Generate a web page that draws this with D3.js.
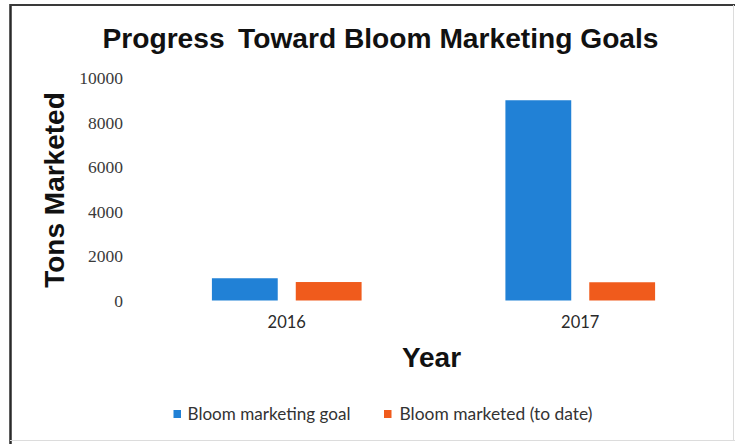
<!DOCTYPE html>
<html>
<head>
<meta charset="utf-8">
<script src="https://cdn.jsdelivr.net/npm/d3@7"></script>
<style>
  html, body { margin: 0; padding: 0; background: #fff; }
  svg { display: block; }
</style>
</head>
<body>
<svg id="chart" width="735" height="444"></svg>
<script>
// Chart data
const years = ["2016", "2017"];
const seriesNames = ["Bloom marketing goal", "Bloom marketed (to date)"];
const goalTons = [1000, 9000];
const marketedTons = [830, 820];
const yTicks = [0, 2000, 4000, 6000, 8000, 10000];

const colors = ["#2181d6", "#f05b1c"];
const W = 735, H = 444;
const plot = { left: 140, right: 727, top: 78, bottom: 300.5 };

const svg = d3.select("#chart");

// Frame
svg.append("rect").attr("x", 0).attr("y", 0).attr("width", W).attr("height", H).attr("fill", "#fff");
svg.append("line").attr("x1", 10.5).attr("x2", 10.5).attr("y1", 4).attr("y2", H).attr("stroke", "#2a2a2a").attr("stroke-width", 2.5);
svg.append("line").attr("x1", 10).attr("x2", W).attr("y1", 5).attr("y2", 5).attr("stroke", "#3a3a3a").attr("stroke-width", 2);
svg.append("line").attr("x1", 10).attr("x2", W).attr("y1", 440.5).attr("y2", 440.5).attr("stroke", "#dcdcdc").attr("stroke-width", 1);
svg.append("line").attr("x1", 733.5).attr("x2", 733.5).attr("y1", 5).attr("y2", 441).attr("stroke", "#dcdcdc").attr("stroke-width", 1);

// Scales
const x0 = d3.scaleBand().domain(years).range([plot.left, plot.right]).paddingInner(0.49).paddingOuter(0.245);
const x1 = d3.scaleBand().domain(seriesNames).range([0, x0.bandwidth()]).paddingInner(0.215).paddingOuter(0);
const y = d3.scaleLinear().domain([0, 10000]).range([plot.bottom, plot.top]);

const rows = years.map((yr, i) => ({ year: yr, values: [goalTons[i], marketedTons[i]] }));

// Bars
const groups = svg.append("g").selectAll("g").data(rows).join("g")
  .attr("transform", d => `translate(${x0(d.year)},0)`);
groups.selectAll("rect")
  .data(d => d.values.map((v, k) => ({ key: seriesNames[k], value: v, k })))
  .join("rect")
  .attr("x", d => x1(d.key))
  .attr("width", x1.bandwidth())
  .attr("y", d => y(d.value))
  .attr("height", d => y(0) - y(d.value))
  .attr("fill", d => colors[d.k]);

// Y axis (labels only)
const yAxis = d3.axisLeft(y).tickValues(yTicks).tickSize(0).tickPadding(0).tickFormat(d3.format("d"));
const yg = svg.append("g").attr("transform", "translate(123,0)").call(yAxis);
yg.select(".domain").remove();
yg.selectAll("text")
  .attr("font-family", "'Liberation Serif', serif")
  .attr("font-size", 17.5)
  .attr("fill", "#3a3a3a");

// X axis (labels only)
const xAxis = d3.axisBottom(x0).tickSize(0).tickPadding(0);
const xg = svg.append("g").attr("transform", "translate(0,316)").call(xAxis);
xg.select(".domain").remove();
xg.selectAll("text")
  .attr("font-family", "Lato, sans-serif")
  .attr("font-size", 16.5)
  .attr("fill", "#2a2a2a");

// Title
svg.append("text")
  .attr("x", 380.5).attr("y", 48)
  .attr("text-anchor", "middle")
  .attr("font-family", "'Liberation Sans', Arial, sans-serif")
  .attr("font-weight", "bold")
  .attr("font-size", 28)
  .attr("fill", "#111")
  .attr("textLength", 556).attr("lengthAdjust", "spacingAndGlyphs")
  .text("Progress\u2009 Toward Bloom Marketing Goals");

// Axis titles
svg.append("text")
  .attr("transform", "translate(64,190) rotate(-90)")
  .attr("text-anchor", "middle")
  .attr("font-family", "'Liberation Sans', Arial, sans-serif")
  .attr("font-weight", "bold")
  .attr("font-size", 28)
  .attr("fill", "#111")
  .text("Tons Marketed");

svg.append("text")
  .attr("x", 431.5).attr("y", 367)
  .attr("text-anchor", "middle")
  .attr("font-family", "'Liberation Sans', Arial, sans-serif")
  .attr("font-weight", "bold")
  .attr("font-size", 28)
  .attr("fill", "#111")
  .text("Year");

// Legend
const legendItems = [
  { name: seriesNames[0], color: colors[0], sx: 173.5, tx: 187.5, len: 163 },
  { name: seriesNames[1], color: colors[1], sx: 384, tx: 399.5, len: 193 }
];
const lg = svg.append("g");
legendItems.forEach(it => {
  lg.append("rect").attr("x", it.sx).attr("y", 410).attr("width", 7.5).attr("height", 8).attr("fill", it.color);
  lg.append("text")
    .attr("x", it.tx).attr("y", 420)
    .attr("font-family", "Lato, sans-serif")
    .attr("font-size", 17.5)
    .attr("fill", "#333")
    .attr("textLength", it.len).attr("lengthAdjust", "spacingAndGlyphs")
    .text(it.name);
});
</script>
</body>
</html>
